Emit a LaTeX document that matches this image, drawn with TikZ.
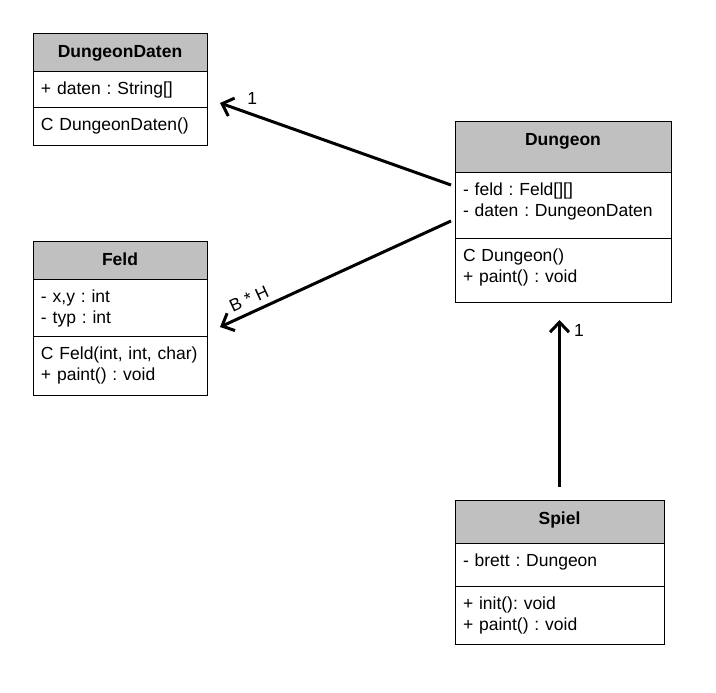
\documentclass[tikz,border=0pt]{standalone}
\usepackage{fontspec}
\setmainfont{Liberation Sans}
\usetikzlibrary{positioning,calc,arrows.meta}
\definecolor{headgray}{RGB}{192,192,192}
\newcommand{\umlsize}{\fontsize{17.5pt}{21.5pt}\selectfont\frenchspacing}

\begin{document}
\begin{tikzpicture}[x=1pt, y=-1pt, font=\umlsize,
    box/.style = {draw, line width=1pt, inner xsep=8pt, inner ysep=0pt, outer sep=0pt},
    classhead/.style = {box, fill=headgray, font=\umlsize\bfseries, align=center, text height=24pt, text depth=#1},
    classpart/.style = {box, fill=white, align=left, text height=23pt, text depth=#1},
    assoc/.style = {line width=3pt, -{Straight Barb[length=10pt, width=19pt]}},
    mult/.style = {inner sep=0pt}]
    \fill[white] (0,0) rectangle (716,693);
    % classes
    \node[classhead=14pt, text width=158pt, anchor=north west] (ddHead) at (33,34) {DungeonDaten};
    \node[classpart=13pt, text width=158pt, below=0pt of ddHead] (ddAttr) {+ daten : String[]};
    \node[classpart=15pt, text width=158pt, below=0pt of ddAttr] (ddOps) {C DungeonDaten()};

    \node[classhead=14pt, text width=158pt, anchor=north west] (feldHead) at (33,241) {Feld};
    \node[classpart=34pt, text width=158pt, below=0pt of feldHead] (feldAttr) {- x,y : int\\- typ : int};
    \node[classpart=36pt, text width=158pt, below=0pt of feldAttr] (feldOps) {C Feld(int, int, char)\\+ paint() : void};

    \node[classhead=26pt, text width=200pt, anchor=north west] (dungeonHead) at (455,122) {Dungeon};
    \node[classpart=43pt, text width=200pt, below=0pt of dungeonHead] (dungeonAttr) {- feld : Feld[][]\\- daten : DungeonDaten};
    \node[classpart=41pt, text width=200pt, below=0pt of dungeonAttr] (dungeonOps) {C Dungeon()\\+ paint() : void};

    \node[classhead=19pt, text width=193pt, anchor=north west] (spielHead) at (455,500) {Spiel};
    \node[classpart=20pt, text width=193pt, below=0pt of spielHead] (spielAttr) {- brett : Dungeon};
    \node[classpart=35pt, text width=193pt, below=0pt of spielAttr] (spielOps) {+ init(): void\\+ paint() : void};

    % associations
    \draw[assoc] ($(dungeonAttr.north west)+(-4,13)$) -- ($(ddAttr.east)+(13,13)$)
        node[mult, pos=0.86, above=8pt] {1};
    \draw[assoc] ($(dungeonAttr.north west)+(-4,49)$) -- ($(feldAttr.east)+(13,19.5)$)
        node[mult, pos=0.85, sloped, above=6pt] {B * H};
    \draw[assoc] ($(spielHead.north)+(0,-13)$) -- ($(spielHead.north |- dungeonOps.south)+(0,18)$)
        node[mult, pos=0.94, right=13pt] {1};
\end{tikzpicture}
\end{document}
